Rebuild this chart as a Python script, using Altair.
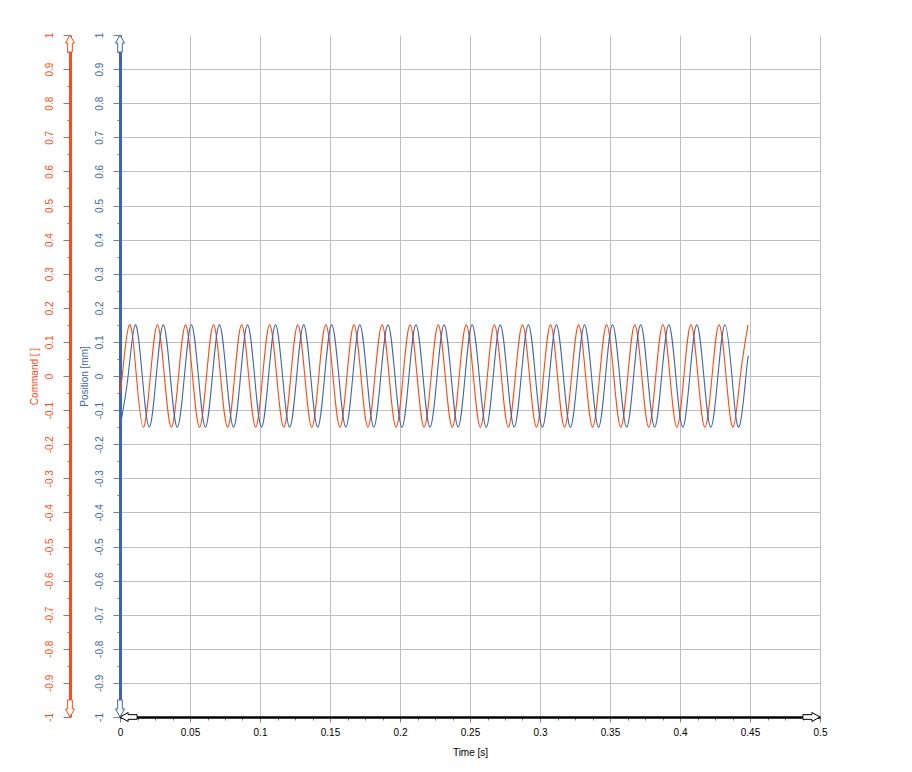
import altair as alt
import pandas as pd

# ---------------- data ----------------
# Command [ ] (orange): times of zero crossings / extrema and their values
cmd_t = [0.0,
         0.0016, 0.0067, 0.0117, 0.0167, 0.0217, 0.0267, 0.0317, 0.0367,
         0.0418, 0.0468, 0.0518, 0.0568, 0.0618, 0.0668, 0.0718, 0.0769,
         0.0819, 0.0869, 0.0919, 0.0969, 0.1019, 0.1069, 0.1119, 0.1170,
         0.1220, 0.1270, 0.1320, 0.1370, 0.1420, 0.1470, 0.1521, 0.1571,
         0.1621, 0.1671, 0.1721, 0.1771, 0.1821, 0.1872, 0.1922, 0.1972,
         0.2022, 0.2072, 0.2122, 0.2172, 0.2223, 0.2273, 0.2323, 0.2373,
         0.2423, 0.2473, 0.2524, 0.2574, 0.2624, 0.2674, 0.2724, 0.2774,
         0.2824, 0.2875, 0.2925, 0.2975, 0.3025, 0.3075, 0.3125, 0.3175,
         0.3226, 0.3276, 0.3326, 0.3376, 0.3426, 0.3476, 0.3527, 0.3577,
         0.3627, 0.3677, 0.3727, 0.3777, 0.3827, 0.3878, 0.3928, 0.3978,
         0.4028, 0.4078, 0.4128, 0.4178, 0.4229, 0.4279, 0.4329, 0.4379,
         0.4431, 0.4486]
cmd_v = [-0.05,
         0, 0.15, 0, -0.15, 0, 0.15, 0, -0.15,
         0, 0.15, 0, -0.15, 0, 0.15, 0, -0.15,
         0, 0.15, 0, -0.15, 0, 0.15, 0, -0.15,
         0, 0.15, 0, -0.15, 0, 0.15, 0, -0.15,
         0, 0.15, 0, -0.15, 0, 0.15, 0, -0.15,
         0, 0.15, 0, -0.15, 0, 0.15, 0, -0.15,
         0, 0.15, 0, -0.15, 0, 0.15, 0, -0.15,
         0, 0.15, 0, -0.15, 0, 0.15, 0, -0.15,
         0, 0.15, 0, -0.15, 0, 0.15, 0, -0.15,
         0, 0.15, 0, -0.15, 0, 0.15, 0, -0.15,
         0, 0.15, 0, -0.15, 0, 0.15, 0, -0.15,
         0, 0.15]

# Position [mm] (blue)
pos_t = [0.0,
         0.0058, 0.0109, 0.0159, 0.0209, 0.0259, 0.0309, 0.0359, 0.0409,
         0.0460, 0.0510, 0.0560, 0.0610, 0.0660, 0.0710, 0.0760, 0.0811,
         0.0861, 0.0911, 0.0961, 0.1011, 0.1061, 0.1111, 0.1161, 0.1212,
         0.1262, 0.1312, 0.1362, 0.1412, 0.1462, 0.1512, 0.1563, 0.1613,
         0.1663, 0.1713, 0.1763, 0.1813, 0.1863, 0.1914, 0.1964, 0.2014,
         0.2064, 0.2114, 0.2164, 0.2214, 0.2265, 0.2315, 0.2365, 0.2415,
         0.2465, 0.2515, 0.2566, 0.2616, 0.2666, 0.2716, 0.2766, 0.2816,
         0.2866, 0.2917, 0.2967, 0.3017, 0.3067, 0.3117, 0.3167, 0.3217,
         0.3268, 0.3318, 0.3368, 0.3418, 0.3468, 0.3518, 0.3569, 0.3619,
         0.3669, 0.3719, 0.3769, 0.3819, 0.3869, 0.3920, 0.3970, 0.4020,
         0.4070, 0.4120, 0.4170, 0.4220, 0.4271, 0.4321, 0.4371, 0.4421,
         0.4471,
         0.4488]
pos_v = [-0.15,
         0, 0.15, 0, -0.15, 0, 0.15, 0, -0.15,
         0, 0.15, 0, -0.15, 0, 0.15, 0, -0.15,
         0, 0.15, 0, -0.15, 0, 0.15, 0, -0.15,
         0, 0.15, 0, -0.15, 0, 0.15, 0, -0.15,
         0, 0.15, 0, -0.15, 0, 0.15, 0, -0.15,
         0, 0.15, 0, -0.15, 0, 0.15, 0, -0.15,
         0, 0.15, 0, -0.15, 0, 0.15, 0, -0.15,
         0, 0.15, 0, -0.15, 0, 0.15, 0, -0.15,
         0, 0.15, 0, -0.15, 0, 0.15, 0, -0.15,
         0, 0.15, 0, -0.15, 0, 0.15, 0, -0.15,
         0, 0.15, 0, -0.15, 0, 0.15, 0, -0.15,
         0,
         0.06]

# tick positions (major every 0.1 / 0.05, minor in between)
y_ticks = [-1, -0.95, -0.9, -0.85, -0.8, -0.75, -0.7, -0.65, -0.6, -0.55,
           -0.5, -0.45, -0.4, -0.35, -0.3, -0.25, -0.2, -0.15, -0.1, -0.05,
           0, 0.05, 0.1, 0.15, 0.2, 0.25, 0.3, 0.35, 0.4, 0.45,
           0.5, 0.55, 0.6, 0.65, 0.7, 0.75, 0.8, 0.85, 0.9, 0.95, 1]
x_ticks = [0, 0.0125, 0.025, 0.0375, 0.05, 0.0625, 0.075, 0.0875, 0.1, 0.1125,
           0.125, 0.1375, 0.15, 0.1625, 0.175, 0.1875, 0.2, 0.2125, 0.225, 0.2375,
           0.25, 0.2625, 0.275, 0.2875, 0.3, 0.3125, 0.325, 0.3375, 0.35, 0.3625,
           0.375, 0.3875, 0.4, 0.4125, 0.425, 0.4375, 0.45, 0.4625, 0.475, 0.4875, 0.5]

assert len(cmd_t) == len(cmd_v) and len(pos_t) == len(pos_v)

cmd_df = pd.DataFrame({"t": cmd_t, "v": cmd_v})
pos_df = pd.DataFrame({"t": pos_t, "v": pos_v})

ORANGE = "#FF4A14"
BLUE = "#3F65AC"
GRID = "#C0C0C0"
TICK = "#808080"
FONT = "Liberation Sans"

xs = alt.Scale(domain=[0, 0.5], nice=False, zero=False)
ys = alt.Scale(domain=[-1, 1], nice=False, zero=False)

y_major = "abs(datum.value*10 - round(datum.value*10)) < 0.001"
x_major = "abs(datum.value*20 - round(datum.value*20)) < 0.001"
y_lab = "(" + y_major + ") ? ((datum.value < 0 ? '-' : '') + format(abs(datum.value), '~g')) : ''"
x_lab = "(" + x_major + ") ? format(datum.value, '~g') : ''"


def y_axis(title, color, offset, grid):
    return alt.Axis(
        orient="left", offset=offset, values=y_ticks,
        title=title, titleColor=color, titleFont=FONT, titleFontSize=10,
        titleFontWeight="normal", titleAngle=270, titleAlign="center",
        titleBaseline="middle", titleX=-36, titleY=341,
        labelAngle=270, labelAlign="center", labelBaseline="middle",
        labelPadding=14, labelColor=color, labelFont=FONT, labelFontSize=10,
        labelExpr=y_lab, labelFlush=False, labelOverlap=False,
        domainColor=color, domainWidth=3,
        tickColor=TICK, tickWidth=1,
        tickSize={"condition": {"test": y_major, "value": 7}, "value": 3},
        grid=grid, gridColor=GRID, gridWidth=1,
        gridOpacity={"condition": {"test": y_major + " && abs(datum.value) < 0.999", "value": 1}, "value": 0},
    )


x_axis = alt.Axis(
    orient="bottom", values=x_ticks,
    title="Time [s]", titleColor="#000000", titleFont=FONT, titleFontSize=10,
    titleFontWeight="normal", titleBaseline="middle", titleY=35, titleX=350,
    titleAlign="center",
    labelColor="#000000", labelFont=FONT, labelFontSize=10, labelBaseline="middle",
    labelPadding=10, labelExpr=x_lab, labelFlush=False, labelOverlap=False,
    domainColor="#000000", domainWidth=2.5,
    tickColor=TICK, tickWidth=1,
    tickSize={"condition": {"test": x_major, "value": 5}, "value": 3},
    grid=True, gridColor=GRID, gridWidth=1,
    gridOpacity={"condition": {"test": x_major, "value": 1}, "value": 0},
)

cmd_line = alt.Chart(cmd_df).mark_line(
    color=ORANGE, strokeWidth=1.1, interpolate="natural"
).encode(
    x=alt.X("t:Q", scale=xs, axis=x_axis),
    y=alt.Y("v:Q", scale=ys, axis=y_axis("Command [ ]", ORANGE, 50, False)),
)

pos_line = alt.Chart(pos_df).mark_line(
    color=BLUE, strokeWidth=1.1, interpolate="natural"
).encode(
    x=alt.X("t:Q", scale=xs, axis=None),
    y=alt.Y("v:Q", scale=ys, axis=y_axis("Position [mm]", BLUE, 0, True)),
)

# hollow block arrows at the axis ends (tip at the anchor point)
UP = "M0,0 L0.5,0.9 L0.26,0.9 L0.26,1.9 L-0.26,1.9 L-0.26,0.9 L-0.5,0.9 Z"
DOWN = "M0,0 L0.5,-0.9 L0.26,-0.9 L0.26,-1.9 L-0.26,-1.9 L-0.26,-0.9 L-0.5,-0.9 Z"
LEFT = "M0,0 L0.9,-0.5 L0.9,-0.26 L1.9,-0.26 L1.9,0.26 L0.9,0.26 L0.9,0.5 Z"
RIGHT = "M0,0 L-0.9,-0.5 L-0.9,-0.26 L-1.9,-0.26 L-1.9,0.26 L-0.9,0.26 L-0.9,0.5 Z"
shape_scale = alt.Scale(domain=["up", "down", "left", "right"], range=[UP, DOWN, LEFT, RIGHT])

yarrow_df = pd.DataFrame({"t": [0.0, 0.0], "v": [1.0, -1.0], "d": ["up", "down"]})
xarrow_df = pd.DataFrame({"t": [0.0, 0.5], "v": [-1.0, -1.0], "d": ["left", "right"]})


def arrows(df, color, x_enc):
    return alt.Chart(df).mark_point(
        filled=True, fill="white", stroke=color, strokeWidth=1, size=324, opacity=1
    ).encode(
        x=x_enc,
        y=alt.Y("v:Q", scale=ys, axis=None),
        shape=alt.Shape("d:N", scale=shape_scale, legend=None),
    )


pos_arrows = arrows(yarrow_df, BLUE, alt.X("t:Q", scale=xs, axis=None))
cmd_arrows = arrows(yarrow_df, ORANGE, alt.value(-50))
x_arrows = arrows(xarrow_df, "#000000", alt.X("t:Q", scale=xs, axis=None))

chart = alt.layer(
    cmd_line, pos_line, x_arrows, cmd_arrows, pos_arrows
).resolve_axis(
    y="independent", x="independent"
).properties(
    width=700, height=682,
    autosize=alt.AutoSizeParams(type="none"),
    padding={"left": 112, "top": 27, "right": 50, "bottom": 45},
    background="white",
).configure_view(stroke=None)

chart.save("out.html", embed_options={"renderer": "svg", "actions": False})
